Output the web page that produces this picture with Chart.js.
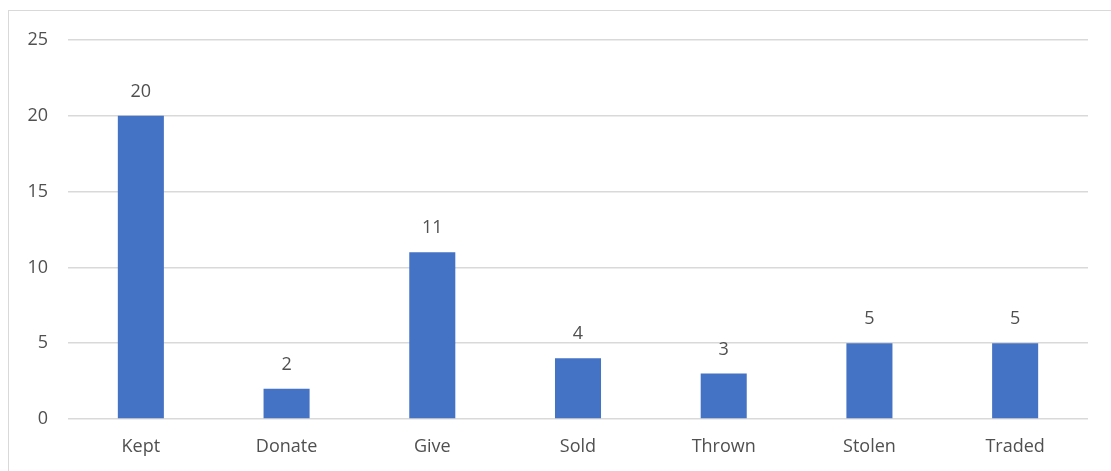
<!DOCTYPE html>
<html>
<head>
<meta charset="utf-8">
<script src="https://cdn.jsdelivr.net/npm/chart.js@4/dist/chart.umd.min.js"></script>
<style>
  html, body { margin: 0; padding: 0; background: #fff; overflow: hidden; }
  #wrap { position: relative; width: 1111px; height: 471px; }
  #frame { position: absolute; left: 8px; top: 10px; width: 1120px; height: 480px; border: 1px solid #d9d9d9; box-sizing: border-box; }
  canvas { position: absolute; left: 0; top: 0; }
</style>
</head>
<body>
<div id="wrap">
  <div id="frame"></div>
  <canvas id="c" width="1111" height="471"></canvas>
</div>
<script>
// 数据
const categories = ['Kept', 'Donate', 'Give', 'Sold', 'Thrown', 'Stolen', 'Traded'];
const counts = [20, 2, 11, 4, 3, 5, 5];
const yTicks = [0, 5, 10, 15, 20, 25];

const FONT = '"Open Sans", "Noto Sans", sans-serif';
const TEXT = '#505050';

/** 柱顶数值标签 */
const valueLabels = {
    id: 'valueLabels',
    afterDatasetsDraw(chart) {
        const ctx = chart.ctx;
        const meta = chart.getDatasetMeta(0);
        ctx.save();
        ctx.font = '18px ' + FONT;
        ctx.fillStyle = TEXT;
        ctx.textAlign = 'center';
        ctx.textBaseline = 'middle';
        meta.data.forEach((bar, i) => {
            ctx.fillText(String(counts[i]), bar.x, bar.y - 24);
        });
        ctx.restore();
    }
};

new Chart(document.getElementById('c').getContext('2d'), {
    type: 'bar',
    data: {
        labels: categories,
        datasets: [{
            data: counts,
            backgroundColor: '#4472c4',
            barPercentage: 0.316,
            categoryPercentage: 1
        }]
    },
    options: {
        responsive: false,
        animation: false,
        layout: { padding: { left: 0, right: 23, top: 40, bottom: 0 } },
        plugins: { legend: { display: false }, tooltip: { enabled: false } },
        scales: {
            x: {
                grid: { display: false },
                border: { display: false },
                ticks: { color: TEXT, font: { family: FONT, size: 18 }, padding: 9 },
                afterFit(scale) { scale.height = 52; }
            },
            y: {
                min: 0,
                max: 25,
                afterBuildTicks(scale) { scale.ticks = yTicks.map(v => ({ value: v })); },
                grid: { color: '#d9d9d9', drawTicks: false, lineWidth: 1.5 },
                border: { display: false },
                ticks: { color: TEXT, font: { family: FONT, size: 18 }, padding: 20 },
                afterFit(scale) { scale.width = 68; }
            }
        }
    },
    plugins: [valueLabels]
});
</script>
</body>
</html>
